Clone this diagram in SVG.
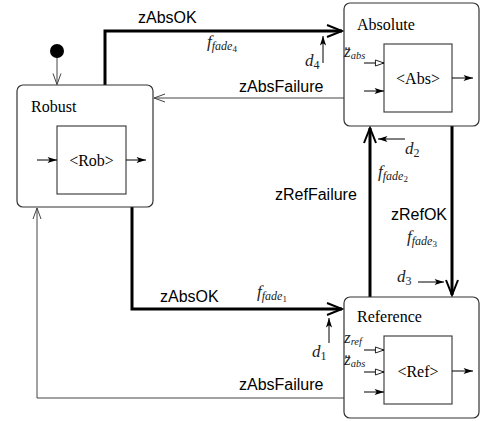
<svg xmlns="http://www.w3.org/2000/svg" width="482" height="421" viewBox="0 0 482 421">
<style>
.box{fill:#fff;stroke:#333;stroke-width:1.2}
.inner{fill:#fff;stroke:#333;stroke-width:1.1}
.thick{fill:none;stroke:#000;stroke-width:3}
.thin{fill:none;stroke:#444;stroke-width:1}
.sig{fill:none;stroke:#000;stroke-width:1}
.sans{font-family:"Liberation Sans",Arial,sans-serif;font-size:16px;fill:#000}
.serif{font-family:"Liberation Serif","Times New Roman",serif;font-size:16px;fill:#000}
.math{font-family:"Liberation Serif","Times New Roman",serif;font-style:italic;font-size:17px;fill:#222}
.sub{font-size:12px}
.subsub{font-size:9px;font-style:normal}
</style>
<defs>
<marker id="vThick" markerUnits="userSpaceOnUse" markerWidth="20" markerHeight="14" refX="0" refY="0" viewBox="-18 -7 20 14" orient="auto" overflow="visible">
<path d="M-15,-6 L0,0 L-15,6" fill="none" stroke="#000" stroke-width="2"/>
</marker>
<marker id="vThin" markerUnits="userSpaceOnUse" markerWidth="14" markerHeight="10" refX="0" refY="0" viewBox="-12 -5 14 10" orient="auto" overflow="visible">
<path d="M-11,-4 L0,0 L-11,4" fill="none" stroke="#444" stroke-width="1"/>
</marker>
<marker id="fill" markerUnits="userSpaceOnUse" markerWidth="12" markerHeight="8" refX="0" refY="0" viewBox="-12 -4 14 8" orient="auto" overflow="visible">
<path d="M-11,-3.6 L0,0 L-11,3.6 L-8.5,0 Z" fill="#000" stroke="none"/>
</marker>
<marker id="open" markerUnits="userSpaceOnUse" markerWidth="12" markerHeight="8" refX="0" refY="0" viewBox="-12 -4 14 8" orient="auto" overflow="visible">
<path d="M-10,-3.5 L0,0 L-10,3.5 Z" fill="#fff" stroke="#000" stroke-width="1"/>
</marker>
</defs>

<g id="connectors">
<line class="thin" x1="57" y1="51" x2="57" y2="84.5" marker-end="url(#vThin)"/>
<polyline class="thick" points="105,85 105,31 342,31" marker-end="url(#vThick)"/>
<line class="thin" x1="344" y1="98" x2="154" y2="98" marker-end="url(#vThin)"/>
<line class="thick" x1="370" y1="297" x2="370" y2="128" marker-end="url(#vThick)"/>
<line class="thick" x1="452" y1="126" x2="452" y2="295" marker-end="url(#vThick)"/>
<polyline class="thick" points="132,207 132,309 342,309" marker-end="url(#vThick)"/>
<polyline class="thin" points="344,398 37,398 37,208" marker-end="url(#vThin)"/>
<line class="sig" x1="323" y1="63" x2="323" y2="36" marker-end="url(#fill)"/>
<line class="sig" x1="405" y1="139" x2="378" y2="139" marker-end="url(#fill)"/>
<line class="sig" x1="418" y1="282" x2="444" y2="282" marker-end="url(#fill)"/>
<line class="sig" x1="329" y1="343" x2="329" y2="318" marker-end="url(#fill)"/>
</g>

<g id="labels">
<text class="sans" x="138" y="23">zAbsOK</text>
<text class="sans" x="239" y="92">zAbsFailure</text>
<text class="sans" x="275" y="200">zRefFailure</text>
<text class="sans" x="391" y="220">zRefOK</text>
<text class="sans" x="160" y="302">zAbsOK</text>
<text class="sans" x="239" y="390">zAbsFailure</text>
<text class="math" x="207" y="47">f<tspan class="sub" dy="3">fade</tspan><tspan class="subsub" dy="2">4</tspan></text>
<text class="math" x="305" y="66">d<tspan class="sub" dy="3" font-style="normal">4</tspan></text>
<text class="math" x="405" y="154">d<tspan class="sub" dy="3" font-style="normal">2</tspan></text>
<text class="math" x="378" y="177">f<tspan class="sub" dy="3">fade</tspan><tspan class="subsub" dy="2">2</tspan></text>
<text class="math" x="407" y="242">f<tspan class="sub" dy="3">fade</tspan><tspan class="subsub" dy="2">3</tspan></text>
<text class="math" x="397" y="282">d<tspan class="sub" dy="3" font-style="normal">3</tspan></text>
<text class="math" x="257" y="297">f<tspan class="sub" dy="3">fade</tspan><tspan class="subsub" dy="2">1</tspan></text>
<text class="math" x="312" y="357">d<tspan class="sub" dy="3" font-style="normal">1</tspan></text>
</g>

<g id="initial">
<circle cx="57" cy="51" r="7" fill="#000"/>
</g>

<g id="robust">
<rect class="box" x="17" y="85" width="136" height="122" rx="6"/>
<text class="serif" x="31" y="112">Robust</text>
<rect class="inner" x="57" y="126" width="69" height="68"/>
<text class="serif" x="91.5" y="166" text-anchor="middle">&lt;Rob&gt;</text>
<line class="sig" x1="37" y1="160" x2="57" y2="160" marker-end="url(#fill)"/>
<line class="sig" x1="126" y1="160" x2="146" y2="160" marker-end="url(#fill)"/>
</g>

<g id="absolute">
<rect class="box" x="344" y="3" width="135" height="123" rx="6"/>
<text class="serif" x="357" y="30">Absolute</text>
<rect class="inner" x="384" y="44" width="68" height="68"/>
<text class="serif" x="418" y="84" text-anchor="middle">&lt;Abs&gt;</text>
<line class="sig" x1="364" y1="63" x2="384" y2="63" marker-end="url(#open)"/>
<line class="sig" x1="364" y1="91" x2="384" y2="91" marker-end="url(#fill)"/>
<line class="sig" x1="452" y1="78" x2="473" y2="78" marker-end="url(#fill)"/>
<text class="math" x="344" y="57" font-size="14">z̈<tspan dy="2" font-size="10.5">abs</tspan></text>
</g>

<g id="reference">
<rect class="box" x="344" y="297" width="135" height="121" rx="6"/>
<text class="serif" x="357" y="322">Reference</text>
<rect class="inner" x="384" y="336" width="68" height="68"/>
<text class="serif" x="418" y="377" text-anchor="middle">&lt;Ref&gt;</text>
<line class="sig" x1="364" y1="350" x2="384" y2="350" marker-end="url(#open)"/>
<line class="sig" x1="364" y1="372" x2="384" y2="372" marker-end="url(#open)"/>
<line class="sig" x1="364" y1="392" x2="384" y2="392" marker-end="url(#fill)"/>
<line class="sig" x1="452" y1="371" x2="473" y2="371" marker-end="url(#fill)"/>
<text class="math" x="344" y="343" font-size="14">z<tspan dy="2" font-size="10.5">ref</tspan></text>
<text class="math" x="344" y="365" font-size="14">z̈<tspan dy="2" font-size="10.5">abs</tspan></text>
</g>
</svg>
